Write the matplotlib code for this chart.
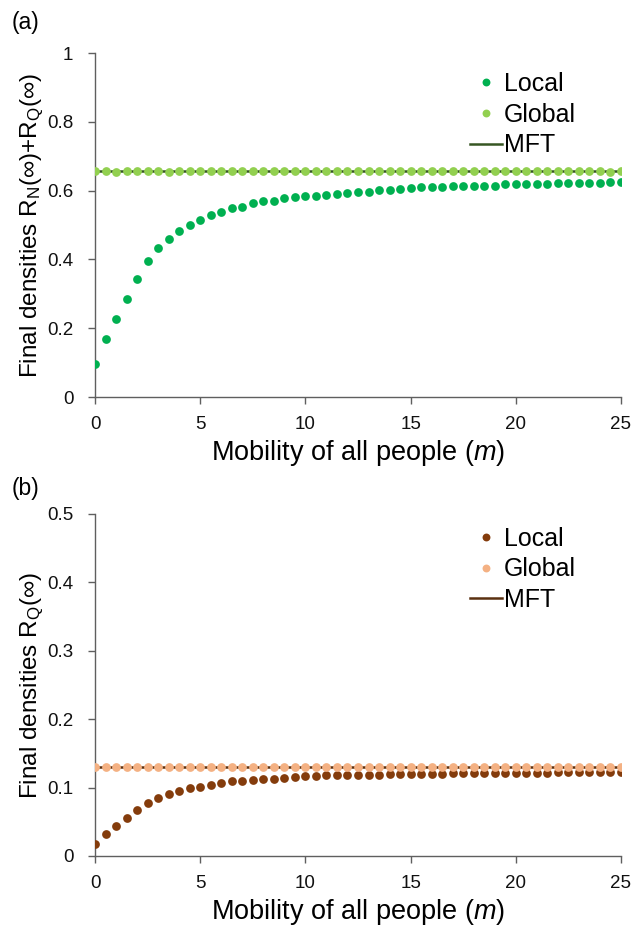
import numpy as np
import matplotlib
matplotlib.use("Agg")
import matplotlib.pyplot as plt

plt.rcParams['font.family'] = ['Liberation Sans', 'DejaVu Sans']
plt.rcParams['mathtext.fontset'] = 'custom'
plt.rcParams['mathtext.rm'] = 'Liberation Sans'
plt.rcParams['mathtext.it'] = 'Liberation Sans:italic'

# ---- data ----
m = np.arange(0, 25.01, 0.5)

local_a = [0.095, 0.168, 0.228, 0.286, 0.342, 0.395, 0.434, 0.460, 0.482, 0.499,
           0.514, 0.528, 0.539, 0.549, 0.551, 0.563, 0.569, 0.571, 0.578, 0.582,
           0.585, 0.585, 0.588, 0.590, 0.592, 0.597, 0.597, 0.601, 0.601, 0.606,
           0.608, 0.610, 0.611, 0.611, 0.613, 0.614, 0.614, 0.614, 0.614, 0.619,
           0.619, 0.619, 0.619, 0.619, 0.621, 0.621, 0.621, 0.621, 0.623, 0.626,
           0.625]
global_a = [0.656, 0.657, 0.655, 0.656, 0.657, 0.656, 0.656, 0.655, 0.657, 0.656,
            0.656, 0.656, 0.657, 0.656, 0.656, 0.656, 0.657, 0.656, 0.656, 0.656,
            0.656, 0.656, 0.656, 0.656, 0.656, 0.657, 0.656, 0.656, 0.656, 0.656,
            0.656, 0.656, 0.656, 0.656, 0.656, 0.656, 0.656, 0.656, 0.656, 0.656,
            0.656, 0.656, 0.656, 0.656, 0.656, 0.656, 0.656, 0.656, 0.656, 0.655,
            0.656]
mft_a = [0.656] * len(m)

local_b = [0.018, 0.032, 0.044, 0.056, 0.067, 0.078, 0.085, 0.091, 0.095, 0.100,
           0.101, 0.1045, 0.106, 0.109, 0.1095, 0.111, 0.112, 0.113, 0.114, 0.115,
           0.1165, 0.1165, 0.1177, 0.1177, 0.1185, 0.1185, 0.119, 0.119, 0.1196, 0.1196,
           0.1206, 0.1206, 0.1206, 0.1206, 0.121, 0.121, 0.121, 0.121, 0.1216, 0.1216,
           0.1216, 0.1216, 0.122, 0.122, 0.1225, 0.1225, 0.1225, 0.1225, 0.123, 0.123,
           0.123]
global_b = [0.130] * len(m)
mft_b = [0.130] * len(m)

xticks = [0, 5, 10, 15, 20, 25]
yticks_a = [0, 0.2, 0.4, 0.6, 0.8, 1]
ytick_labels_a = ['0', '0.2', '0.4', '0.6', '0.8', '1']
yticks_b = [0, 0.1, 0.2, 0.3, 0.4, 0.5]
ytick_labels_b = ['0', '0.1', '0.2', '0.3', '0.4', '0.5']

colors_a = {'Local': '#00B050', 'Global': '#92D050', 'MFT': '#375623'}
colors_b = {'Local': '#843C0C', 'Global': '#F4B183', 'MFT': '#5a3010'}

W, H = 634, 927
fig = plt.figure(figsize=(W / 100, H / 100), dpi=100)


def px_axes(l, r, t, b):
    return fig.add_axes([l / W, 1 - b / H, (r - l) / W, (b - t) / H])


def panel(ax, local, glob, mft, colors, yticks, ylabels, ylim, ylabel, leg_anchor):
    l_mft, = ax.plot(m, mft, color=colors['MFT'], lw=1.8, zorder=2)
    l_loc, = ax.plot(m, local, 'o', color=colors['Local'], ms=6.3, mew=0, zorder=3)
    l_glo, = ax.plot(m, glob, 'o', color=colors['Global'], ms=6.3, mew=0, zorder=3)
    ax.set_xlim(0, 25)
    ax.set_ylim(*ylim)
    ax.set_xticks(xticks)
    ax.set_xticklabels([str(t) for t in xticks])
    ax.set_yticks(yticks)
    ax.set_yticklabels(ylabels)
    for s in ['top', 'right']:
        ax.spines[s].set_visible(False)
    for s in ['left', 'bottom']:
        ax.spines[s].set_color('#5f5f5f')
        ax.spines[s].set_linewidth(1.0)
    ax.tick_params(axis='both', direction='out', length=5, width=1.0,
                   color='#5f5f5f', labelsize=13.5, labelcolor='#111111')
    ax.tick_params(axis='x', pad=9)
    ax.tick_params(axis='y', pad=10.5)
    ax.set_xlabel(r'Mobility of all people ($\mathit{m}$)', fontsize=19.5, labelpad=3)
    ax.set_ylabel(ylabel, fontsize=17.5, labelpad=1)
    ax.legend([l_loc, l_glo, l_mft], ['Local', 'Global', 'MFT'], loc='upper left',
              bbox_to_anchor=leg_anchor, frameon=False, fontsize=18,
              handlelength=1.28, handletextpad=0.08, labelspacing=0.27,
              borderaxespad=0, borderpad=0, markerscale=0.9)


ax1 = px_axes(95, 621, 53, 397)
ax2 = px_axes(95, 621, 514, 856)

panel(ax1, local_a, global_a, mft_a, colors_a, yticks_a, ytick_labels_a, (0, 1),
      r'Final densities R$_\mathregular{N}$(∞)+R$_\mathregular{Q}$(∞)', (0.713, 0.945))
panel(ax2, local_b, global_b, mft_b, colors_b, yticks_b, ytick_labels_b, (0, 0.5),
      r'Final densities R$_\mathregular{Q}$(∞)', (0.713, 0.963))

fig.text(12 / W, 1 - 22 / H, '(a)', fontsize=16.5, va='center', ha='left')
fig.text(12 / W, 1 - 489 / H, '(b)', fontsize=16.5, va='center', ha='left')

fig.savefig('out.png', dpi=100)
